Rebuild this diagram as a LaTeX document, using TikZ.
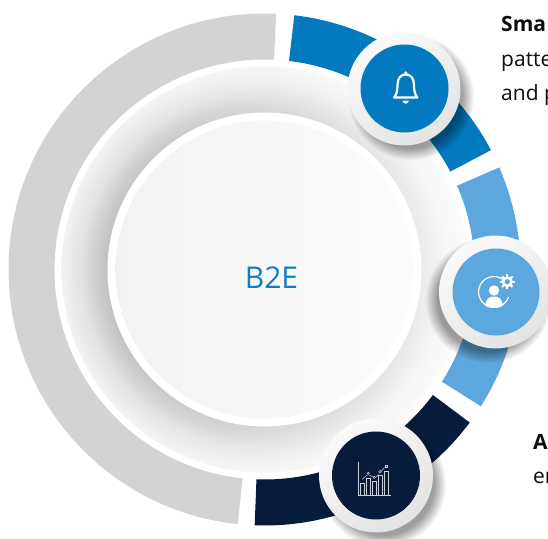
\documentclass[tikz,border=0pt]{standalone}
\usepackage{fontspec}
\setmainfont{Open Sans}
\usetikzlibrary{fadings,calc}
\definecolor{cblue}{HTML}{0379C0}
\definecolor{clight}{HTML}{5CA8DE}
\definecolor{cnavy}{HTML}{071B3B}
\definecolor{cgray}{HTML}{D1D3D4}
\definecolor{cword}{HTML}{0F7EC3}
\pgfdeclareradialshading{ringshade}{\pgfpoint{0bp}{0bp}}{
  color(0bp)=(black!28);color(19bp)=(black!28);color(20.5bp)=(black!22);
  color(22.5bp)=(black!12);color(25bp)=(black!5);color(50bp)=(black!5)}
\tikzset{
  x=1pt,y=1pt,
  seg/.style={fill=#1,draw=none},
  softshadow/.style={fill=black,opacity=.38,path fading=circle with fuzzy edge 20 percent,draw=none},
  badge/.style={left color=black!2,right color=black!11,shading angle=35,draw=none},
  iconline/.style={draw=white,line width=#1,fill=none,line cap=round,line join=round},
  label/.style={anchor=base west,inner sep=0pt,font=\fontsize{21}{21}\selectfont,text=black!95}
}
\newcommand{\ringseg}[3]{\fill[seg=#3] (#1:256pt) arc[start angle=#1,end angle=#2,radius=256pt] -- (#2:210pt) arc[start angle=#2,end angle=#1,radius=210pt] -- cycle;}
\begin{document}
\begin{tikzpicture}
\useasboundingbox (0,0) rectangle (548,-538);
\clip (0,0) rectangle (548,-538);
\fill[white] (0,0) rectangle (548,-538);
\begin{scope}[shift={(264.5,-269.5)}]
  \ringseg{87.4}{264.0}{cgray}
  \ringseg{-92.2}{-36.7}{cnavy}
  \ringseg{-32.3}{23.5}{clight}
  \ringseg{27.8}{83.3}{cblue}
  % shaded ring
  \shade[shading=ringshade] (0,0) circle[radius=203pt];
  \fill[white,opacity=.8,even odd rule,path fading=west] (0,0) circle[radius=203pt] (0,0) circle[radius=150pt];
  % inner disc
  \fill[white] (0,0) circle[radius=157pt];
  \shade[left color=black!5,right color=black!1,draw=none] (0,0) circle[radius=149pt];
\end{scope}
% shadows
\fill[softshadow] (411,-97) circle[radius=63pt];
\fill[softshadow] (488,-300) circle[radius=63pt];
\fill[softshadow] (383,-484) circle[radius=63pt];
% badges
\shade[badge] (404,-89) circle[radius=56.5pt];
\fill[cblue] (404.5,-88.5) circle[radius=44pt];
\shade[badge] (495.5,-292) circle[radius=56.5pt];
\fill[clight] (496,-292) circle[radius=43.5pt];
\shade[badge] (376,-475.5) circle[radius=57pt];
\fill[cnavy] (376,-475.5) circle[radius=44pt];
% bell
\draw[iconline=2.2] (394,-97.5) .. controls (396.5,-95) and (397.5,-91) .. (397.5,-85)
  .. controls (397.5,-78) and (401,-74.5) .. (405.7,-74.5)
  .. controls (410.5,-74.5) and (414,-78) .. (414,-85)
  .. controls (414,-91) and (415,-95) .. (417.5,-97.5) -- cycle;
\fill[white] (405.7,-73) circle[radius=1.8pt];
\fill[white] (402.5,-100.5) arc[start angle=180,end angle=360,radius=3.2pt] -- cycle;
% gear person
\draw[iconline=1.2] (503,-279.5) arc[start angle=54,end angle=340,radius=15.4pt];
\fill[white] (494,-290.5) circle[radius=5.2pt];
\fill[white] (485.5,-306) .. controls (485.5,-299) and (489,-296.5) .. (494,-296.5)
  .. controls (499,-296.5) and (502.5,-299) .. (502.5,-306) .. controls (498,-308.5) and (490,-308.5) .. (485.5,-306) -- cycle;
\draw[white,line width=2.6pt] (507.3,-281.7) circle[radius=4.2pt];
\foreach \a in {0,45,...,315}{
  \draw[white,line width=2pt] ($(507.3,-281.7)+(\a:4.6pt)$) -- ($(507.3,-281.7)+(\a:7.4pt)$);
}
% chart
\begin{scope}[draw=white!80!cnavy,line width=.55pt]
  \draw (358.3,-461.7) -- (358.3,-495) -- (391,-495);
  \draw (360.7,-495) -- (360.7,-483.3) -- (364,-483.3) -- (364,-495);
  \draw (366,-495) -- (366,-478.3) -- (370.3,-478.3) -- (370.3,-495);
  \draw (372,-495) -- (372,-481.7) -- (376,-481.7) -- (376,-495);
  \draw (378.3,-495) -- (378.3,-475) -- (382.3,-475) -- (382.3,-495);
  \draw (384.7,-495) -- (384.7,-471) -- (388.7,-471) -- (388.7,-495);
  \draw (362.3,-479.3) -- (367.3,-475) (369.5,-475) -- (373,-477) (376,-477) -- (378.5,-474.5) (381,-471.5) -- (384.5,-467.5);
  \draw (368.3,-473.3) circle[radius=1.2pt] (374.3,-477.3) circle[radius=1.2pt] (380,-471.7) circle[radius=1.2pt];
  \draw (385,-467.3) rectangle (387.5,-464.8);
\end{scope}
% texts
\node[anchor=base,inner sep=0pt,font=\fontsize{30}{30}\selectfont,text=cword] (hub) at (271.5,-288) {B2E};
\node[label,font=\fontsize{21}{21}\selectfont\bfseries] (t1) at (501,-31) {Sma};
\node[label] (t2) at (501,-66) {patte};
\node[label] (t3) at (501,-100) {and p};
\node[label,font=\fontsize{21}{21}\selectfont\bfseries] (t4) at (533,-449) {A};
\node[label] (t5) at (533,-483) {en};
\end{tikzpicture}
\end{document}
